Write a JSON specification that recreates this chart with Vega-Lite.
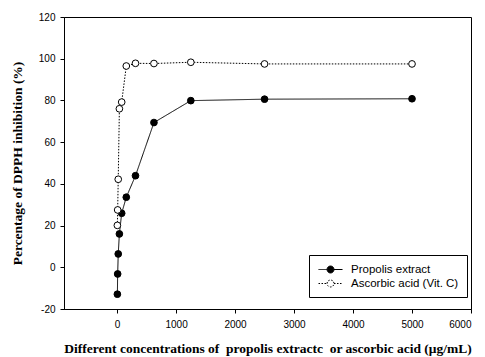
{
  "$schema": "https://vega.github.io/schema/vega-lite/v6.json",
  "width": 407,
  "height": 292,
  "autosize": {"type": "none"},
  "padding": {"left": 64, "top": 17, "right": 14, "bottom": 48},
  "background": "white",
  "config": {
    "view": {"stroke": "black", "strokeWidth": 1},
    "axis": {
      "grid": false,
      "domainColor": "black",
      "tickColor": "black",
      "tickSize": 4,
      "labelFont": "Liberation Sans",
      "labelFontSize": 10,
      "labelColor": "black",
      "titleFont": "Liberation Serif",
      "titleFontSize": 13.5,
      "titleFontWeight": "bold",
      "titleColor": "black"
    },
    "legend": {
      "title": null,
      "orient": "none",
      "legendX": 245,
      "legendY": 238,
      "padding": 8,
      "strokeColor": "black",
      "fillColor": "white",
      "cornerRadius": 0,
      "symbolType": "M-0.83,0H0.59M1.75,0H3.17M0.59,0A0.58,0.58,0,1,1,1.75,0A0.58,0.58,0,1,1,0.59,0Z",
      "symbolSize": 144,
      "symbolStrokeColor": "black",
      "symbolStrokeWidth": 1,
      "symbolOpacity": 1,
      "labelFont": "Liberation Sans",
      "labelFontSize": 11.5,
      "labelColor": "black",
      "labelOffset": 21,
      "rowPadding": 2
    }
  },
  "data": {
    "values": [
      {"series": "Propolis extract", "conc": 4.88, "inhibition": -12.9},
      {"series": "Propolis extract", "conc": 9.77, "inhibition": -3.2},
      {"series": "Propolis extract", "conc": 19.5, "inhibition": 6.4},
      {"series": "Propolis extract", "conc": 39, "inhibition": 16},
      {"series": "Propolis extract", "conc": 78, "inhibition": 25.9},
      {"series": "Propolis extract", "conc": 156, "inhibition": 33.6},
      {"series": "Propolis extract", "conc": 312, "inhibition": 43.9},
      {"series": "Propolis extract", "conc": 625, "inhibition": 69.4},
      {"series": "Propolis extract", "conc": 1250, "inhibition": 79.9},
      {"series": "Propolis extract", "conc": 2500, "inhibition": 80.6},
      {"series": "Propolis extract", "conc": 5000, "inhibition": 80.8},
      {"series": "Ascorbic acid (Vit. C)", "conc": 4.88, "inhibition": 20.1},
      {"series": "Ascorbic acid (Vit. C)", "conc": 9.77, "inhibition": 27.5},
      {"series": "Ascorbic acid (Vit. C)", "conc": 19.5, "inhibition": 42.2},
      {"series": "Ascorbic acid (Vit. C)", "conc": 39, "inhibition": 76},
      {"series": "Ascorbic acid (Vit. C)", "conc": 78, "inhibition": 79.2},
      {"series": "Ascorbic acid (Vit. C)", "conc": 156, "inhibition": 96.5},
      {"series": "Ascorbic acid (Vit. C)", "conc": 312, "inhibition": 97.8},
      {"series": "Ascorbic acid (Vit. C)", "conc": 625, "inhibition": 97.7},
      {"series": "Ascorbic acid (Vit. C)", "conc": 1250, "inhibition": 98.3},
      {"series": "Ascorbic acid (Vit. C)", "conc": 2500, "inhibition": 97.5},
      {"series": "Ascorbic acid (Vit. C)", "conc": 5000, "inhibition": 97.5}
    ]
  },
  "encoding": {
    "x": {
      "field": "conc",
      "type": "quantitative",
      "scale": {"domain": [-900, 6000], "nice": false, "zero": false},
      "axis": {
        "values": [0, 1000, 2000, 3000, 4000, 5000, 6000],
        "format": "d",
        "labelPadding": 6,
        "title": "Different concentrations of\u00a0 propolis extractc\u00a0 or ascorbic acid (μg/mL)",
        "titlePadding": 12
      }
    },
    "y": {
      "field": "inhibition",
      "type": "quantitative",
      "scale": {"domain": [-20, 120], "nice": false, "zero": false},
      "axis": {
        "values": [-20, 0, 20, 40, 60, 80, 100, 120],
        "labelExpr": "'' + datum.value",
        "labelPadding": 5,
        "title": "Percentage of DPPH inhibition (%)",
        "titlePadding": 14
      }
    }
  },
  "layer": [
    {
      "mark": {"type": "line", "stroke": "black", "strokeWidth": 1},
      "encoding": {
        "strokeDash": {
          "field": "series",
          "type": "nominal",
          "scale": {
            "domain": ["Propolis extract", "Ascorbic acid (Vit. C)"],
            "range": [[1, 0], [1.5, 1.5]]
          }
        }
      }
    },
    {
      "mark": {"type": "point", "filled": false, "shape": "circle", "size": 45, "stroke": "black", "strokeWidth": 1, "opacity": 1},
      "encoding": {
        "fill": {
          "field": "series",
          "type": "nominal",
          "scale": {
            "domain": ["Propolis extract", "Ascorbic acid (Vit. C)"],
            "range": ["black", "white"]
          }
        }
      }
    }
  ]
}
